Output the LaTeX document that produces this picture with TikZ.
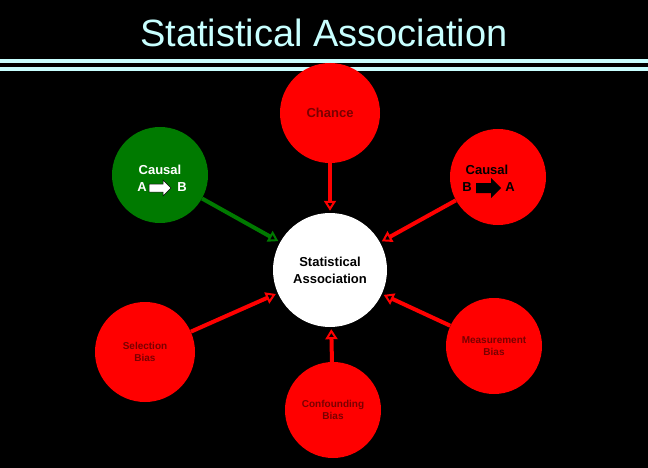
\documentclass[tikz,border=0pt]{standalone}
\usepackage{fontspec}
\setmainfont{Liberation Sans}
\usetikzlibrary{arrows.meta}
\definecolor{rd}{HTML}{FF0000}
\definecolor{gr}{HTML}{007A00}
\definecolor{txr}{HTML}{7A0000}
\definecolor{cy}{HTML}{C8FFFF}
\begin{document}
\begin{tikzpicture}[x=1pt,y=-1pt,
  circ/.style={circle,fill=rd,minimum size=#1,inner sep=0pt,align=center,text=txr},
  big/.style={font=\bfseries\fontsize{13}{15}\selectfont},
  small/.style={font=\bfseries\fontsize{10}{12}\selectfont},
  con/.style={line width=4pt,draw=rd,-{Triangle[open,length=10pt,width=12pt,line width=2pt]},shorten >=2pt}]
\fill[black] (0,0) rectangle (648,468);
\useasboundingbox (0,0) rectangle (648,468);
\node[text=cy,font=\fontsize{38}{40}\selectfont] (title) at (324,33) {Statistical Association};
\draw[cy,line width=4pt] (0,61) -- (648,61);
\draw[cy,line width=4pt] (0,69) -- (648,69);
\node[circle,fill=white,minimum size=114pt,inner sep=0pt,align=center,font=\bfseries\fontsize{13}{17}\selectfont] (sa) at (330,270) {Statistical\\Association};
\node[circ=100pt,big] (ch) at (330,113) {Chance};
\node[circ=96pt,fill=gr] (ca) at (160,175) {};
\node[circ=96pt] (cb) at (498,177) {};
\node[circ=100pt,small] (sb) at (145,352) {Selection\\Bias};
\node[circ=96pt,small] (mb) at (494,346) {Measurement\\Bias};
\node[circ=96pt,small] (cf) at (333,410) {Confounding\\Bias};
% causal labels
\node[big,text=white] (cat) at (160,170) {Causal};
\node[big,text=white] (caa) at (142,187) {A};
\node[big,text=white] (cab) at (182,187) {B};
\fill[white,draw=black,line width=0.5pt] (149,184) -- (163,184) -- (163,180) -- (171,188) -- (163,196) -- (163,192) -- (149,192) -- cycle;
\node[big,text=black] (cbt) at (487,170) {Causal};
\node[big,text=black] (cbb) at (467,187) {B};
\node[big,text=black] (cba) at (510,187) {A};
\fill[black] (476,183) -- (491,183) -- (491,178) -- (501,188) -- (491,198) -- (491,193) -- (476,193) -- cycle;
% connectors
\draw[con] (ch) -- (sa);
\draw[con,draw=gr] (ca) -- (sa);
\draw[con] (cb) -- (sa);
\draw[con] (sb) -- (sa);
\draw[con] (mb) -- (sa);
\draw[con] (cf) -- (sa);
\end{tikzpicture}
\end{document}
